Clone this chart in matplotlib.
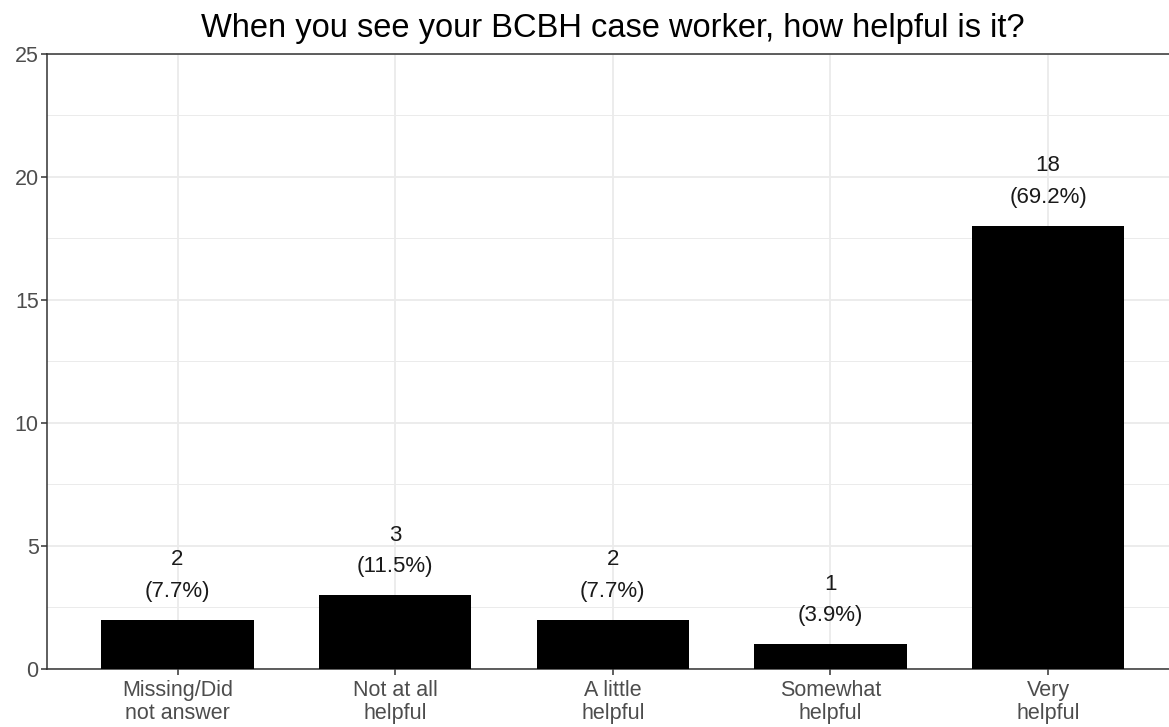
import matplotlib.pyplot as plt
from matplotlib.ticker import MultipleLocator

plt.rcParams['font.family'] = ['Liberation Sans', 'DejaVu Sans']

# Survey responses
categories = ['Missing/Did\nnot answer', 'Not at all\nhelpful', 'A little\nhelpful',
              'Somewhat\nhelpful', 'Very\nhelpful']
counts = [2, 3, 2, 1, 18]
percents = [7.7, 11.5, 7.7, 3.9, 69.2]

fig = plt.figure(figsize=(11.69, 7.27), dpi=100)
ax = fig.add_axes([0.0402, 0.0798, 0.968, 0.8466])

x = list(range(1, len(categories) + 1))
ax.bar(x, counts, width=0.7, color='black', zorder=3)

for xi, n, p in zip(x, counts, percents):
    ax.annotate(f'{n}\n({p}%)', xy=(xi, n), xytext=(0, 13), textcoords='offset points',
                ha='center', va='bottom', fontsize=16, color='#1a1a1a',
                linespacing=1.65, zorder=4)

ax.set_xlim(0.4, 5.6)
ax.set_ylim(0, 25)
ax.set_xticks(x)
ax.set_xticklabels(categories, fontsize=15.5, color='#4d4d4d', linespacing=1.1)
ax.yaxis.set_major_locator(MultipleLocator(5))
ax.yaxis.set_minor_locator(MultipleLocator(2.5))
ax.tick_params(axis='y', labelsize=15.5, labelcolor='#4d4d4d')
ax.tick_params(axis='both', which='major', length=4, width=1.1, color='#333333', pad=2)
ax.tick_params(axis='x', which='major', pad=4)
ax.tick_params(axis='y', which='minor', length=0)

ax.grid(which='major', color='#ebebeb', linewidth=1.3, zorder=0)
ax.grid(which='minor', axis='y', color='#ebebeb', linewidth=0.7, zorder=0)
ax.set_axisbelow(True)

for side in ['left', 'top', 'bottom', 'right']:
    ax.spines[side].set_color('#333333')
    ax.spines[side].set_linewidth(1.1)

ax.set_title('When you see your BCBH case worker, how helpful is it?',
             fontsize=23.5, color='black', pad=12)

fig.savefig('out.png', dpi=100)
